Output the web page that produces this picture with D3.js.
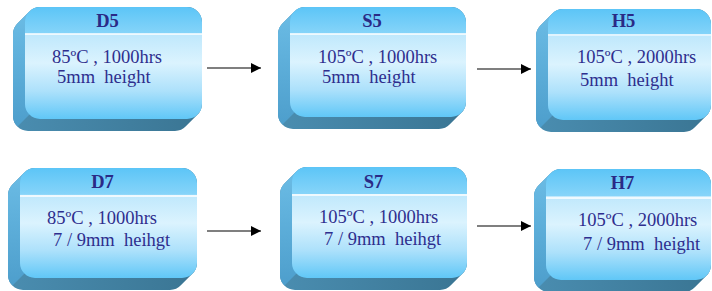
<!DOCTYPE html>
<html><head><meta charset="utf-8">
<script src="https://cdn.jsdelivr.net/npm/d3@7"></script>
<style>html,body{margin:0;padding:0;background:#fff;}svg{display:block;}</style>
</head><body>
<script>
// ---- data ----
const codes = ["D5", "S5", "H5", "D7", "S7", "H7"];
const conditions = ["85ºC , 1000hrs", "105ºC , 1000hrs", "105ºC , 2000hrs",
                    "85ºC , 1000hrs", "105ºC , 1000hrs", "105ºC , 2000hrs"];
const sizes = ["5mm  height", "5mm  height", "5mm  height",
               "7 / 9mm  heihgt", "7 / 9mm  heihgt", "7 / 9mm  height"];
const flows = [["D5","S5"], ["S5","H5"], ["D7","S7"], ["S7","H7"]];

// ---- layout (front face of each box) ----
const layout = {
  D5: {x: 25, y: 7, w: 177, h: 112, sep: 34, t: 27, l1: [52, 63], l2: [57, 83]},
  S5: {x: 290, y: 7, w: 176, h: 110, sep: 34, t: 27, l1: [318, 63], l2: [322, 83]},
  H5: {x: 548, y: 9, w: 163, h: 111, sep: 35, t: 27, l1: [577, 63], l2: [580, 86]},
  D7: {x: 20, y: 168, w: 177, h: 110, sep: 196, t: 188, l1: [47, 224], l2: [53, 246]},
  S7: {x: 292, y: 167, w: 175, h: 111, sep: 195, t: 188, l1: [319, 223], l2: [324, 245]},
  H7: {x: 546, y: 169, w: 165, h: 111, sep: 198, t: 189, l1: [578, 226], l2: [583, 250]}
};
const arrows = {
  "D5-S5": {x1: 207, x2: 261, y: 68},
  "S5-H5": {x1: 477, x2: 531, y: 69},
  "D7-S7": {x1: 207, x2: 261, y: 231},
  "S7-H7": {x1: 477, x2: 531, y: 226}
};
const depth = 12, r = 15;

const W = 712, H = 291;
const svg = d3.select("body").append("svg").attr("width", W).attr("height", H);
const defs = svg.append("defs");

const fg = defs.append("linearGradient").attr("id", "front").attr("x1", 0).attr("y1", 0).attr("x2", 0).attr("y2", 1);
[[0, "#5cc5f7"], [0.24, "#86d4f9"], [0.245, "#bfe8fc"], [0.5, "#dbf3fe"], [0.75, "#ade1fb"], [1, "#60c7f7"]]
  .forEach(([o, c]) => fg.append("stop").attr("offset", o).attr("stop-color", c));
const sg = defs.append("linearGradient").attr("id", "side").attr("x1", 0).attr("y1", 0).attr("x2", 0).attr("y2", 1);
[[0, "#6cbde6"], [1, "#4c9dcb"]].forEach(([o, c]) => sg.append("stop").attr("offset", o).attr("stop-color", c));
const bg = defs.append("linearGradient").attr("id", "bottom").attr("x1", 0).attr("y1", 0).attr("x2", 1).attr("y2", 0);
[[0, "#4a8db0"], [1, "#3a7593"]].forEach(([o, c]) => bg.append("stop").attr("offset", o).attr("stop-color", c));

defs.append("marker").attr("id", "head").attr("viewBox", "0 0 10 10")
  .attr("refX", 10).attr("refY", 5).attr("markerWidth", 11).attr("markerHeight", 10)
  .attr("markerUnits", "userSpaceOnUse").attr("orient", "auto")
  .append("path").attr("d", "M0,0L10,5L0,10Z").attr("fill", "#000");

// arrows
flows.forEach(([a, b]) => {
  const ar = arrows[a + "-" + b];
  svg.append("line").attr("x1", ar.x1).attr("x2", ar.x2).attr("y1", ar.y).attr("y2", ar.y)
    .attr("stroke", "#000").attr("stroke-width", 1.2).attr("marker-end", "url(#head)");
});

codes.forEach((code, i) => {
  const b = layout[code];
  const g = svg.append("g");
  const cid = "clip" + i;
  const clip = defs.append("clipPath").attr("id", cid);
  d3.range(0, depth + 1).forEach(k => {
    clip.append("rect")
      .attr("x", b.x - k).attr("y", b.y + k).attr("width", b.w).attr("height", b.h)
      .attr("rx", r).attr("ry", r);
  });
  const back = g.append("g").attr("clip-path", `url(#${cid})`);
  back.append("rect").attr("x", b.x - depth).attr("y", b.y).attr("width", b.w + depth).attr("height", b.h + depth)
    .attr("fill", "url(#bottom)");
  back.append("path")
    .attr("d", `M${b.x - depth},${b.y}L${b.x + 4},${b.y}L${b.x + 4},${b.y + b.h - 4}L${b.x - depth},${b.y + b.h + depth}Z`)
    .attr("fill", "url(#side)");
  g.append("rect").attr("x", b.x).attr("y", b.y).attr("width", b.w).attr("height", b.h)
    .attr("rx", r).attr("ry", r).attr("fill", "url(#front)");
  g.append("line").attr("x1", b.x).attr("x2", b.x + b.w).attr("y1", b.sep).attr("y2", b.sep)
    .attr("stroke", "#ffffff").attr("stroke-width", 1.6);
  const cx = b.x - depth / 2 + b.w / 2;
  g.append("text").attr("x", cx).attr("y", b.t).attr("text-anchor", "middle")
    .attr("font-family", "'Liberation Serif', 'Times New Roman', serif").attr("font-weight", "bold")
    .attr("font-size", 18.5).attr("fill", "#2a2a86").text(code);
  [[conditions[i], b.l1], [sizes[i], b.l2]].forEach(([t, p]) => {
    g.append("text").attr("x", p[0]).attr("y", p[1])
      .attr("font-family", "'Liberation Serif', 'Times New Roman', serif")
      .attr("font-size", 18.5).attr("fill", "#2e2e8e").style("white-space", "pre").text(t);
  });
});
</script>
</body></html>
